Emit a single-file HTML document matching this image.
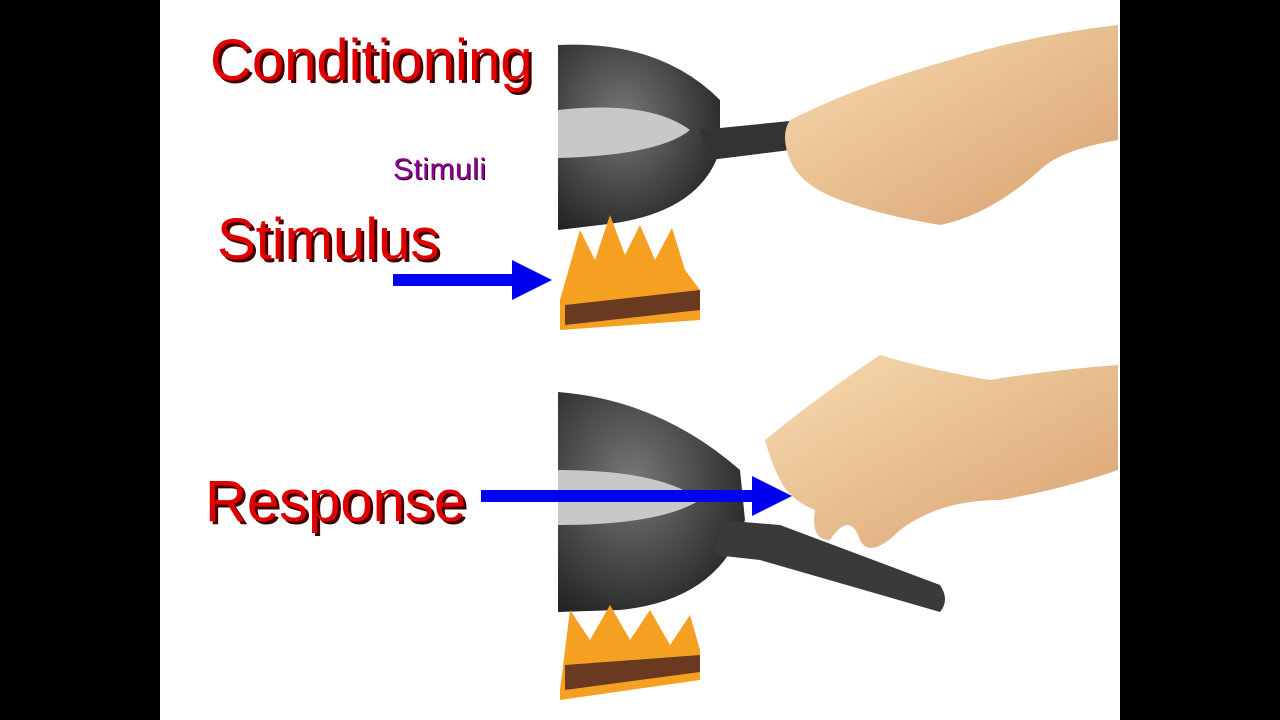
<!DOCTYPE html>
<html><head><meta charset="utf-8"><style>
html,body{margin:0;padding:0;background:#000;}
.wrap{position:relative;width:1280px;height:720px;background:#000;overflow:hidden;}
.slide{position:absolute;left:160px;top:0;width:960px;height:720px;background:#fff;}
.t{position:absolute;font-family:"Liberation Sans",Arial,sans-serif;color:#e00000;text-shadow:3px 3px 0 #400;white-space:nowrap;}
</style></head><body><div class="wrap"><div class="slide"></div>
<svg style="position:absolute;left:0;top:0" width="1280" height="720">
<defs>
<radialGradient id="pan" cx="0.4" cy="0.4" r="0.7"><stop offset="0" stop-color="#777"/><stop offset="1" stop-color="#222"/></radialGradient>
<linearGradient id="skin" x1="0" y1="0" x2="1" y2="1"><stop offset="0" stop-color="#f7dcb0"/><stop offset="1" stop-color="#d9a070"/></linearGradient>
</defs>
<path d="M558,45 Q660,40 720,100 L720,150 Q700,215 600,225 L558,230 Z" fill="url(#pan)"/>
<path d="M558,110 Q650,100 690,130 Q660,155 558,158 Z" fill="#c8c8c8"/>
<path d="M700,130 L800,120 L860,140 L860,152 L790,150 L710,160 Z" fill="#333"/>
<path d="M560,300 L580,230 L595,260 L610,215 L625,255 L640,225 L655,260 L672,228 L685,270 L700,290 L700,320 L560,330 Z" fill="#f5a020"/>
<path d="M565,305 L700,290 L700,310 L565,325 Z" fill="#6a3a20"/>
<path d="M790,120 Q860,85 950,60 Q1030,35 1118,25 L1118,140 Q1060,150 1040,170 Q990,215 940,225 Q880,215 840,200 Q800,185 790,160 Q780,135 790,120 Z" fill="url(#skin)"/>
<path d="M558,392 Q660,400 740,470 L745,520 Q720,600 620,610 L558,612 Z" fill="url(#pan)"/>
<path d="M558,470 Q660,470 700,500 Q660,525 558,525 Z" fill="#c8c8c8"/>
<path d="M720,520 L780,525 L940,585 Q950,600 940,612 L760,560 L715,555 Z" fill="#3a3a3a"/>
<path d="M560,690 L570,610 L590,640 L610,605 L630,640 L650,610 L670,645 L690,615 L700,650 L700,680 L560,700 Z" fill="#f5a020"/>
<path d="M565,665 L700,655 L700,672 L565,690 Z" fill="#6a3a20"/>
<path d="M765,440 Q820,395 880,355 Q930,370 990,380 Q1050,370 1118,365 L1118,470 Q1060,490 1000,500 Q940,500 900,530 Q870,560 860,540 Q850,510 830,540 Q810,540 815,510 Q790,500 780,480 Q770,460 765,440 Z" fill="url(#skin)"/>
<rect x="393" y="274" width="122" height="12" fill="#0000f0"/>
<polygon points="512,260 552,280 512,300" fill="#0000f0"/>
<rect x="481" y="490" width="275" height="12" fill="#0000f0"/>
<polygon points="752,476 792,496 752,516" fill="#0000f0"/>
</svg>
<div class="t" style="left:210px;top:27px;font-size:58px;">Conditioning</div>
<div class="t" style="left:393px;top:153px;font-size:30px;letter-spacing:0.5px;color:#9000a0;text-shadow:1px 1px 0 #300;">Stimuli</div>
<div class="t" style="left:217px;top:206px;font-size:58px;">Stimulus</div>
<div class="t" style="left:205px;top:468px;font-size:58px;">Response</div>
</div></body></html>
